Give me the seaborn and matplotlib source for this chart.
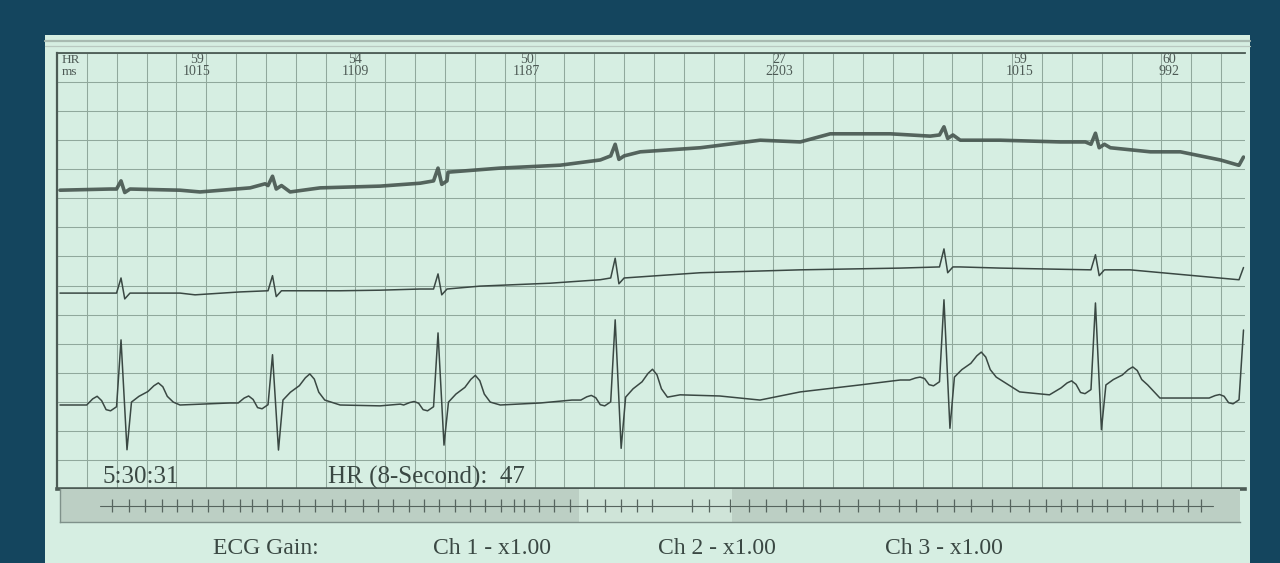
import numpy as np
import pandas as pd
import seaborn as sns
import matplotlib.pyplot as plt
from matplotlib.patches import Rectangle
from matplotlib.lines import Line2D

first_beat_s = 0.429
rr_ms = [1015, 1109, 1187, 2203, 1015, 992]
hr_bpm = [59, 54, 50, 27, 59, 60]

# canal 1 (ruidoso, desvio de linha de base)
ch1_level = [5.16, 5.22, 5.30, 5.73, 6.09, 5.93, 5.57]
ch1_r = [0.14, 0.16, 0.22, 0.20, 0.14, 0.19, 0.14]
ch1_wander_t = [0.02, 0.355, 0.824, 0.958, 1.294, 1.394, 1.562, 1.763, 2.165, 2.433,
                2.62, 2.969, 3.371, 3.64, 3.908, 4.31, 4.712, 4.98, 5.181, 5.583,
                5.851, 6.052, 6.32, 6.723, 6.89, 7.058, 7.326, 7.527, 7.795, 7.916]
ch1_wander_v = [5.14, 5.16, 5.14, 5.11, 5.18, 5.25, 5.11, 5.18, 5.21, 5.26,
                5.45, 5.52, 5.57, 5.66, 5.80, 5.87, 6.00, 5.97, 6.11, 6.11,
                6.07, 6.00, 6.00, 5.97, 5.97, 5.87, 5.80, 5.80, 5.66, 5.57]

# canal 2
ch2_level = [3.37, 3.41, 3.44, 3.63, 3.82, 3.77, 3.60]
ch2_r = [0.26, 0.26, 0.26, 0.34, 0.31, 0.26, 0.21]
ch2_wander_t = [0.02, 0.824, 0.925, 1.227, 1.897, 2.165, 2.433, 2.835, 3.304, 3.64,
                4.31, 4.98, 5.65, 6.05, 6.32, 6.72, 7.19, 7.66, 7.916]
ch2_wander_v = [3.37, 3.37, 3.34, 3.39, 3.41, 3.42, 3.44, 3.49, 3.54, 3.60,
                3.72, 3.77, 3.80, 3.82, 3.80, 3.78, 3.77, 3.66, 3.60]

# canal 3 (P, R, S, T por batimento)
ch3_level = [1.445, 1.48, 1.445, 1.53, 1.875, 1.74, 1.565]
ch3_p = [0.15, 0.12, 0.06, 0.08, 0.05, 0.12, 0.06]
ch3_r = [1.12, 0.83, 1.24, 1.38, 1.38, 1.46, 1.17]
ch3_s = [-0.77, -0.81, -0.69, -0.83, -0.83, -0.72, 0.0]
ch3_t = [0.33, 0.45, 0.46, 0.48, 0.43, 0.31, 0.0]
ch3_wander_t = [0.02, 0.824, 1.16, 1.897, 2.165, 2.30, 2.97, 3.24, 3.45, 4.175,
                4.44, 4.71, 4.98, 5.38, 5.65, 6.45, 6.65, 7.39, 7.66]
ch3_wander_v = [1.445, 1.445, 1.48, 1.445, 1.43, 1.46, 1.445, 1.48, 1.53, 1.62,
                1.60, 1.53, 1.67, 1.79, 1.875, 1.67, 1.62, 1.565, 1.565]

# faixa de tendencia (batimentos comprimidos)
overview_beats = [52, 69, 85, 102, 117, 132, 148, 163, 180, 192, 207, 222, 239, 255,
                  272, 285, 303, 318, 333, 349, 364, 379, 395, 410, 425, 441, 454,
                  464, 479, 494, 510, 527, 545, 561, 577, 592, 632, 649, 670, 689,
                  706, 726, 743, 760, 779, 798, 819, 839, 856, 877, 894, 911, 932,
                  950, 969, 986, 1001, 1017, 1032, 1047, 1065, 1082, 1097, 1113,
                  1128, 1141]
overview_span = [40, 1153]
strip_window = [519, 672]

clock = "5:30:31"
hr_8s = 47
gains = ["Ch 1 - x1.00", "Ch 2 - x1.00", "Ch 3 - x1.00"]

# ---- cores ----
BG = "#14455e"
PAPER = "#d6eee2"
INK = "#3a4843"
BAND = "#bccfc4"
BAND_LIGHT = "#cfe4d8"

beat_t = first_beat_s + np.cumsum([0] + rr_ms) / 1000.0


def build_trace(levels, shape_dt, shapes, wander_t, wander_v):
    pts = list(zip(wander_t, wander_v))
    for i, bt in enumerate(beat_t):
        for dt, v in zip(shape_dt, shapes[i]):
            if i == len(beat_t) - 1 and dt > 0:
                continue
            pts.append((bt + dt, levels[i] + v))
    pts.sort()
    return pd.DataFrame(pts, columns=["t", "mV"])


spike_dt = [-0.03, 0.0, 0.025, 0.06]
ch1 = build_trace(ch1_level, spike_dt, [[0, r, -0.06, 0] for r in ch1_r],
                  ch1_wander_t, ch1_wander_v)
ch2 = build_trace(ch2_level, spike_dt, [[0, r, -0.10, 0] for r in ch2_r],
                  ch2_wander_t, ch2_wander_v)

# modelo PQRST: onda P e onda T arredondadas
pqrst_dt = [-0.23, -0.19, -0.16, -0.13, -0.10, -0.07, -0.03, 0.0, 0.04, 0.07,
            0.12, 0.18, 0.22, 0.25, 0.28, 0.31, 0.35]
t_frac = [0.30, 0.55, 0.85, 1.0, 0.80, 0.30, 0.0]
ch3_shapes = [[0, 0.7 * p, p, 0.5 * p, -0.08, -0.10, -0.03, r, s, 0.05]
              + [0.05 + f * t for f in t_frac]
              for p, r, s, t in zip(ch3_p, ch3_r, ch3_s, ch3_t)]
ch3 = build_trace(ch3_level, pqrst_dt, ch3_shapes, ch3_wander_t, ch3_wander_v)

# ---- figura ----
sns.set_style("white")
plt.rcParams["font.family"] = ["Liberation Serif", "DejaVu Serif"]

W, H = 1280, 563
fig = plt.figure(figsize=(12.8, 5.63), dpi=100, facecolor=BG)

# papel
fig.patches.append(Rectangle((45 / W, 0), 1205 / W, 528 / H, transform=fig.transFigure,
                             facecolor=PAPER, edgecolor="none", zorder=-10))
fig.add_artist(Line2D([45 / W, 1250 / W], [522 / H, 522 / H], color="#a8bab1", lw=1.6))
fig.add_artist(Line2D([45 / W, 1250 / W], [517 / H, 517 / H], color="#b8c8c0", lw=0.9))

ax = fig.add_axes([57 / W, 74 / H, 1188 / W, 436 / H])
ax.set_facecolor(PAPER)
ax.set_xlim(0, 7.96)
ax.set_ylim(0, 7.5)
ax.set_xticks(np.arange(0, 7.96, 0.2))
ax.set_yticks(np.arange(0, 7.51, 0.5))
ax.tick_params(length=0, labelbottom=False, labelleft=False)
ax.grid(True, color="#90a89c", lw=0.75)
ax.set_axisbelow(True)
for side, lw in [("left", 1.6), ("top", 1.3), ("bottom", 2.6)]:
    ax.spines[side].set_color("#4c5b55")
    ax.spines[side].set_linewidth(lw)
ax.spines["right"].set_visible(False)

sns.lineplot(data=ch1, x="t", y="mV", estimator=None, color="#46554f", lw=2.6,
             alpha=0.9, ax=ax)
sns.lineplot(data=ch2, x="t", y="mV", estimator=None, color=INK, lw=1.1, ax=ax)
sns.lineplot(data=ch3, x="t", y="mV", estimator=None, color=INK, lw=1.1, ax=ax)
ax.set_xlabel("")
ax.set_ylabel("")

# cabecalho HR / ms
xt = ax.get_xaxis_transform()
ax.text(0.03, 0.984, "HR", transform=xt, fontsize=9.5, color="#4d5a55", va="center")
ax.text(0.03, 0.957, "ms", transform=xt, fontsize=9.5, color="#4d5a55", va="center")
for i, (hr, rr) in enumerate(zip(hr_bpm, rr_ms)):
    mid = (beat_t[i] + beat_t[i + 1]) / 2
    ax.text(mid, 0.984, str(hr), transform=xt, fontsize=10, color="#4d5a55",
            ha="center", va="center")
    ax.text(mid, 0.957, str(rr), transform=xt, fontsize=10, color="#4d5a55",
            ha="center", va="center")

ax.text(0.038, 0.027, clock, transform=ax.transAxes, fontsize=18, color=INK, va="center")
ax.text(0.228, 0.027, f"HR (8-Second):  {hr_8s}", transform=ax.transAxes,
        fontsize=18, color=INK, va="center")

# faixa de tendencia
bx = fig.add_axes([60 / W, 41 / H, 1180 / W, 33 / H])
bx.set_facecolor(BAND)
bx.set_xlim(0, 1180)
bx.set_ylim(-1, 1)
bx.axvspan(strip_window[0], strip_window[1], color=BAND_LIGHT, lw=0)
bx.plot(overview_span, [0, 0], color="#56645e", lw=0.8)
bx.vlines(overview_beats, -0.42, 0.42, color="#56645e", lw=0.9)
bx.set_xticks([])
bx.set_yticks([])
bx.spines["top"].set_visible(False)
bx.spines["right"].set_visible(False)
for side in ["left", "bottom"]:
    bx.spines[side].set_color("#7f918a")
    bx.spines[side].set_linewidth(1.0)

# ganho
fig.text(213 / W, 15 / H, "ECG Gain:", fontsize=17, color=INK, va="center")
for x0, g in zip([433, 658, 885], gains):
    fig.text(x0 / W, 15 / H, g, fontsize=17, color=INK, va="center")

fig.savefig("out.png", dpi=100, facecolor=BG)
